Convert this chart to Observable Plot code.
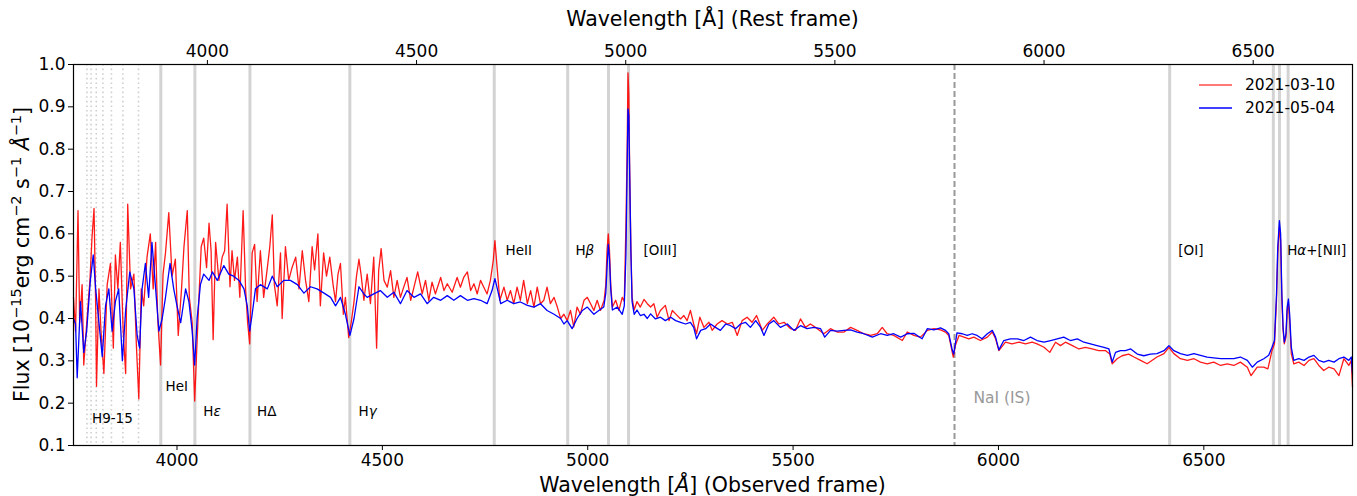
<!DOCTYPE html>
<html><head><meta charset="utf-8">
<script src="https://cdn.jsdelivr.net/npm/d3@7"></script>
<script src="https://cdn.jsdelivr.net/npm/@observablehq/plot@0.6"></script>
<style>body{margin:0;background:#fff;} svg{display:block;}</style>
</head><body><div id="chart"></div>
<script>
// redshift linking observed (bottom) and rest (top) frames
const z = 0.0185;
const obsTicks = [4000, 4500, 5000, 5500, 6000, 6500];
const restTicks = [4000, 4500, 5000, 5500, 6000, 6500];
const fluxTicks = [0.1, 0.2, 0.3, 0.4, 0.5, 0.6, 0.7, 0.8, 0.9, 1.0];
// rest-frame line wavelengths
const balmerRest = [3712.0, 3721.9, 3734.4, 3750.2, 3770.6, 3797.9, 3835.4];
const lineRest = [3888.6, 3970.1, 4101.7, 4340.5, 4685.7, 4861.3, 4958.9, 5006.8, 6300.3, 6548.1, 6562.8, 6583.5];
const naiObs = [5893];
const seriesNames = ["2021-03-10", "2021-05-04"];

const redWave = [3748,3753,3759,3763,3769,3773,3781,3788,3793,3798,3802,3804,3810,3815,3822,3830,3838,3845,3850,3856,3862,3869,3875,3880,3887,3895,3901,3907,3913,3919,3927,3935,3942,3948,3953,3960,3966,3972,3980,3988,3996,4003,4011,4017,4025,4030,4037,4043,4048,4053,4059,4065,4072,4078,4083,4088,4094,4102,4110,4116,4122,4129,4134,4140,4147,4153,4161,4167,4172,4177,4183,4189,4195,4203,4211,4220,4226,4232,4237,4244,4252,4256,4264,4272,4280,4289,4297,4305,4313,4321,4329,4335,4343,4349,4357,4364,4372,4380,4386,4392,4398,4405,4410,4418,4424,4431,4437,4443,4448,
4455,4463,4471,4479,4486,4491,4497,4504,4512,4520,4528,4536,4544,4552,4560,4569,4577,4586,4597,4605,4613,4621,4629,4642,4650,4658,4670,4682,4690,4698,4707,4715,4723,4731,4739,4747,4755,4763,4770,4774,4780,4786,4796,4804,4812,4820,4828,4836,4844,4853,4861,4869,4877,4885,4893,4901,4909,4918,4926,4934,4942,4950,4958,4966,4974,4982,4991,4999,5007,5015,5023,5031,5040,5044,5047,5050,5053,5056,5060,5068,5076,5084,5089,5093,5096,5098,5100,5102,5105,5108,5113,5120,5128,5137,5145,
5153,5161,5169,5177,5189,5198,5206,5214,5226,5234,5242,5250,5258,5265,5273,5283,5295,5303,5315,5327,5340,5352,5364,5376,5388,5400,5411,5425,5437,5453,5465,5478,5494,5506,5518,5530,5542,5559,5575,5591,5607,5624,5640,5656,5672,5689,5705,5717,5729,5745,5766,5778,5794,5810,5827,5843,5859,
5871,5879,5890,5895,5904,5916,5928,5940,5956,5973,5985,5993,6001,6017,6033,6050,6066,6082,6094,6111,6125,6139,6151,6163,6180,6196,6212,6228,6244,6261,6271,6277,6289,6301,6317,6330,6346,6362,
6386,6403,6415,6427,6443,6460,6476,6492,6508,6524,6541,6557,6573,6589,6606,6615,6630,6646,6656,6666,6672,6677,6680,6684,6687,6690,6693,6696,6700,6703,6706,6709,6713,6719,6731,6744,6756,6768,6780,6792,6804,6817,6829,6841,6853,6859,6862];
const redFlux = [0.45,0.37,0.655,0.39,0.48,0.29,0.40,0.49,0.59,0.66,0.43,0.24,0.47,0.37,0.27,0.48,0.53,0.33,0.55,0.47,0.58,0.37,0.27,0.67,0.47,0.505,0.34,0.21,0.47,0.43,0.545,0.60,0.47,0.58,0.40,0.29,0.505,0.555,0.65,0.50,0.54,0.36,0.47,0.57,0.655,0.45,0.39,0.205,0.325,0.44,0.57,0.59,0.52,0.625,0.56,0.35,0.58,0.49,0.545,0.56,0.67,0.475,0.56,0.49,0.545,0.45,0.655,0.47,0.39,0.34,0.555,0.575,0.44,0.56,0.45,0.52,0.57,0.645,0.48,0.43,0.555,0.40,0.57,0.49,0.52,0.545,0.47,0.56,0.49,0.44,0.57,0.515,0.60,0.43,0.555,0.50,0.545,0.48,0.44,0.505,0.53,0.41,0.45,0.355,0.39,0.44,0.50,0.54,0.505,
0.443,0.505,0.435,0.545,0.33,0.513,0.565,0.49,0.474,0.513,0.45,0.49,0.45,0.474,0.497,0.443,0.474,0.51,0.458,0.49,0.443,0.486,0.458,0.497,0.466,0.482,0.462,0.497,0.474,0.497,0.51,0.466,0.482,0.458,0.49,0.474,0.458,0.49,0.537,0.584,0.513,0.443,0.474,0.443,0.466,0.435,0.474,0.443,0.49,0.435,0.466,0.427,0.474,0.435,0.443,0.474,0.435,0.45,0.427,0.40,0.41,0.395,0.419,0.38,0.427,0.41,0.443,0.45,0.435,0.419,0.443,0.419,0.443,0.48,0.56,0.60,0.56,0.48,0.427,0.443,0.419,0.45,0.44,0.62,0.80,0.98,0.93,0.76,0.57,0.45,0.42,0.44,0.427,0.445,0.435,
0.427,0.435,0.403,0.419,0.431,0.395,0.419,0.411,0.399,0.407,0.395,0.419,0.387,0.364,0.403,0.379,0.391,0.372,0.387,0.395,0.387,0.391,0.36,0.395,0.403,0.391,0.407,0.372,0.387,0.403,0.387,0.391,0.376,0.372,0.399,0.379,0.387,0.376,0.364,0.376,0.368,0.368,0.379,0.372,0.364,0.36,0.364,0.379,0.364,0.36,0.348,0.368,0.36,0.356,0.372,0.376,0.373,
0.368,0.36,0.309,0.336,0.36,0.356,0.352,0.356,0.348,0.356,0.368,0.352,0.324,0.344,0.34,0.344,0.34,0.344,0.34,0.332,0.32,0.344,0.336,0.344,0.336,0.328,0.332,0.328,0.324,0.324,0.316,0.293,0.305,0.312,0.316,0.309,0.301,0.293,
0.309,0.317,0.332,0.317,0.305,0.301,0.305,0.297,0.293,0.297,0.289,0.293,0.289,0.297,0.285,0.265,0.285,0.285,0.281,0.324,0.34,0.443,0.553,0.616,0.584,0.443,0.372,0.34,0.356,0.419,0.434,0.395,0.317,0.293,0.297,0.289,0.301,0.305,0.289,0.277,0.285,0.281,0.265,0.305,0.289,0.301,0.238];

const blueWave = [3748,3753,3757,3765,3773,3780,3789,3796,3802,3810,3818,3826,3834,3842,3850,3858,3867,3875,3885,3895,3903,3909,3915,3923,3931,3939,3948,3956,3964,3972,3983,3992,4000,4009,4021,4029,4037,4043,4049,4057,4065,4078,4086,4098,4114,4126,4138,4151,4163,4171,4177,4183,4191,4203,4220,4232,4244,4260,4276,4293,4309,4325,4341,4358,4374,4386,4398,4410,4421,4431,4443,
4455,4463,4479,4495,4512,4528,4544,4560,4577,4593,4609,4625,4642,4658,4674,4690,4707,4723,4739,4755,4767,4774,4781,4788,4804,4820,4836,4853,4869,4885,4901,4918,4934,4942,4950,4962,4974,4987,4999,5015,5027,5039,5044,5047,5050,5053,5056,5060,5072,5084,5089,5093,5096,5098,5100,5102,5105,5108,5113,5120,5128,5137,5145,
5153,5165,5177,5189,5202,5214,5226,5238,5250,5258,5265,5275,5287,5299,5311,5323,5336,5348,5360,5372,5384,5396,5409,5421,5429,5441,5453,5469,5486,5502,5518,5534,5551,5567,5577,5591,5607,5624,5640,5656,5672,5693,5713,5729,5745,5762,5778,5794,5814,5827,5843,5859,
5871,5879,5887,5891,5895,5899,5912,5924,5936,5948,5960,5973,5985,5993,6001,6013,6029,6046,6062,6078,6094,6111,6127,6143,6159,6175,6192,6208,6224,6240,6257,6269,6277,6285,6297,6309,6322,6338,6354,6370,
6386,6403,6415,6427,6443,6460,6476,6492,6508,6524,6541,6557,6573,6589,6606,6618,6630,6646,6658,6666,6672,6677,6680,6684,6687,6690,6693,6696,6700,6703,6706,6709,6713,6719,6731,6744,6756,6768,6780,6792,6804,6817,6829,6841,6853,6859,6862];
const blueFlux = [0.40,0.387,0.26,0.44,0.32,0.37,0.49,0.55,0.47,0.39,0.31,0.43,0.47,0.37,0.44,0.47,0.30,0.42,0.51,0.47,0.36,0.33,0.47,0.53,0.45,0.58,0.47,0.37,0.40,0.45,0.53,0.47,0.43,0.39,0.47,0.44,0.37,0.29,0.40,0.48,0.505,0.49,0.51,0.49,0.525,0.505,0.50,0.49,0.47,0.43,0.37,0.41,0.47,0.48,0.47,0.50,0.475,0.49,0.49,0.48,0.46,0.475,0.47,0.46,0.45,0.43,0.45,0.41,0.36,0.40,0.475,
0.458,0.45,0.458,0.466,0.45,0.462,0.435,0.466,0.45,0.458,0.435,0.45,0.443,0.454,0.443,0.454,0.443,0.447,0.443,0.435,0.466,0.494,0.466,0.435,0.443,0.435,0.439,0.431,0.427,0.435,0.419,0.41,0.40,0.387,0.395,0.376,0.40,0.419,0.427,0.41,0.419,0.427,0.46,0.52,0.575,0.54,0.47,0.42,0.427,0.41,0.43,0.55,0.76,0.895,0.88,0.75,0.56,0.44,0.41,0.42,0.407,0.41,0.40,
0.411,0.399,0.403,0.395,0.403,0.395,0.391,0.387,0.391,0.379,0.352,0.372,0.376,0.387,0.379,0.372,0.387,0.383,0.376,0.387,0.391,0.379,0.395,0.379,0.36,0.387,0.395,0.379,0.387,0.372,0.383,0.376,0.379,0.376,0.356,0.372,0.37,0.372,0.373,0.368,0.364,0.356,0.364,0.36,0.364,0.356,0.364,0.365,0.352,0.376,0.373,0.378,
0.372,0.364,0.328,0.316,0.34,0.366,0.364,0.36,0.364,0.36,0.352,0.364,0.372,0.356,0.326,0.348,0.352,0.352,0.348,0.356,0.348,0.344,0.348,0.352,0.356,0.348,0.352,0.344,0.34,0.336,0.332,0.328,0.297,0.32,0.324,0.324,0.328,0.316,0.312,0.316,
0.317,0.324,0.336,0.324,0.317,0.313,0.317,0.313,0.309,0.307,0.305,0.305,0.305,0.309,0.301,0.285,0.297,0.305,0.313,0.332,0.348,0.458,0.568,0.631,0.60,0.458,0.38,0.344,0.364,0.427,0.446,0.41,0.332,0.301,0.305,0.301,0.309,0.313,0.301,0.297,0.301,0.297,0.305,0.309,0.301,0.309,0.27];

// line annotations (text, observed-frame wavelength of left edge, flux of text centre)
const labelText = ["H9-15", "HeI", "Hε", "HΔ", "Hγ", "HeII", "Hβ", "[OIII]", "[OI]", "Hα+[NII]"];
const labelWave = [3793, 3972, 4064, 4195, 4442, 4800, 4970, 5136, 6438, 6703];
const labelFlux = [0.163, 0.238, 0.180, 0.180, 0.180, 0.561, 0.561, 0.561, 0.561, 0.561];
const naiText = ["NaI (IS)"];
const naiLabelWave = [5939];
const naiLabelFlux = [0.213];

(function () {
  const red = redWave.map((w, i) => ({w, f: redFlux[i]}));
  const blue = blueWave.map((w, i) => ({w, f: blueFlux[i]}));
  const labels = labelText.map((t, i) => ({t, w: labelWave[i], f: labelFlux[i]}));
  const nai = naiText.map((t, i) => ({t, w: naiLabelWave[i], f: naiLabelFlux[i]}));

  const FONT = "DejaVu Sans, sans-serif";
  const svg = Plot.plot({
    width: 1357, height: 496,
    marginLeft: 73, marginRight: 5, marginTop: 64, marginBottom: 51,
    style: {fontFamily: FONT, fontSize: "17px", color: "#000", background: "#fff", overflow: "visible"},
    x: {domain: [3748, 6862]},
    y: {domain: [0.1, 1.0]},
    marks: [
      Plot.ruleX(balmerRest.map(r => r * (1 + z)), {stroke: "#cfcfcf", strokeWidth: 1.6, strokeDasharray: "1.6,3"}),
      Plot.ruleX(lineRest.map(r => r * (1 + z)), {stroke: "#d3d3d3", strokeWidth: 3}),
      Plot.ruleX(naiObs, {stroke: "#999", strokeWidth: 2, strokeDasharray: "6,3"}),
      Plot.line(red, {x: "w", y: "f", stroke: "#ff0000", strokeOpacity: 0.9, strokeWidth: 1.3}),
      Plot.line(blue, {x: "w", y: "f", stroke: "#0000ff", strokeWidth: 1.3}),
      Plot.text(labels, {x: "w", y: "f", text: "t", textAnchor: "start", fontSize: 13.5, fill: "#000"}),
      Plot.text(nai, {x: "w", y: "f", text: "t", textAnchor: "start", fontSize: 15.5, fill: "#999"}),
      Plot.frame({stroke: "#000", strokeWidth: 1.2}),
      Plot.axisX({anchor: "bottom", ticks: obsTicks, tickFormat: d => String(d), tickSize: 5, tickPadding: 3, label: null}),
      Plot.axisX({anchor: "top", ticks: restTicks.map(r => r * (1 + z)), tickFormat: d => String(Math.round(d / (1 + z))), tickSize: 5, tickPadding: 3, label: null}),
      Plot.axisY({ticks: fluxTicks, tickFormat: d3.format(".1f"), tickSize: 5, tickPadding: 3, label: null})
    ]
  });

  const s = d3.select(svg);
  // italic greek letters in annotations
  s.selectAll("text").each(function () {
    const txt = this.textContent;
    if (labelText.includes(txt) && /[εγβα]/.test(txt)) {
      const el = d3.select(this);
      el.text(null);
      for (const ch of txt) {
        const sp = el.append("tspan").text(ch);
        if (/[εγβα]/.test(ch)) sp.attr("font-style", "italic");
      }
    }
  });

  // axis titles
  s.append("text").attr("x", 712.5).attr("y", 26).attr("text-anchor", "middle")
    .attr("font-size", 20.5).attr("font-family", FONT).attr("fill", "#000")
    .text("Wavelength [Å] (Rest frame)");
  const bottomTitle = s.append("text").attr("x", 712.5).attr("y", 492).attr("text-anchor", "middle")
    .attr("font-size", 20.5).attr("font-family", FONT).attr("fill", "#000");
  bottomTitle.append("tspan").text("Wavelength [");
  bottomTitle.append("tspan").attr("font-style", "italic").text("Å");
  bottomTitle.append("tspan").text("] (Observed frame)");

  // y label with superscripts
  const yl = s.append("text").attr("transform", "translate(29,254.5) rotate(-90)").attr("text-anchor", "middle")
    .attr("font-size", 20.5).attr("font-family", FONT).attr("fill", "#000");
  const segs = [
    ["Flux [10", 0, false], ["−15", 1, false], ["erg cm", 0, false], ["−2", 1, false],
    [" s", 0, false], ["−1", 1, false], [" ", 0, false], ["Å", 0, true], ["−1", 1, false], ["]", 0, false]
  ];
  let level = 0;
  segs.forEach(([t, sp, it]) => {
    const dy = (sp - level) * -8;
    level = sp;
    const el = yl.append("tspan").attr("dy", dy).text(t);
    if (sp) el.attr("font-size", 14.5);
    if (it) el.attr("font-style", "italic");
  });

  // legend
  const leg = s.append("g").attr("font-family", FONT).attr("font-size", 15.5).attr("text-anchor", "start");
  const legColors = ["#ff0000", "#0000ff"];
  const legOp = [0.7, 1];
  const legY = [85, 108];
  seriesNames.forEach((n, i) => {
    leg.append("line").attr("x1", 1199).attr("x2", 1232).attr("y1", legY[i]).attr("y2", legY[i])
      .attr("stroke", legColors[i]).attr("stroke-opacity", legOp[i]).attr("stroke-width", 1.5);
    leg.append("text").attr("x", 1245).attr("y", legY[i]).attr("dy", "0.35em").attr("text-anchor", "start")
      .attr("fill", "#000").text(n);
  });

  document.getElementById("chart").appendChild(svg);
})();
</script>
</body></html>
